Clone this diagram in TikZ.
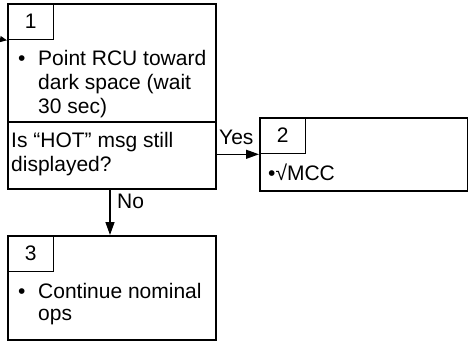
\documentclass[tikz,border=0pt]{standalone}
\usepackage{fontspec}
\setmainfont{Liberation Sans}
\usetikzlibrary{arrows.meta}
\begin{document}
\begin{tikzpicture}[x=1pt,y=1pt,
  box/.style={draw,line width=2pt,anchor=north west,inner sep=0pt},
  numbox/.style={draw,line width=1.3pt,anchor=north west,inner sep=0pt,minimum width=46pt,minimum height=36pt,font=\fontsize{21}{24}\selectfont},
  txt/.style={anchor=base west,inner sep=0pt,font=\fontsize{21}{24}\selectfont},
  arr/.style={line width=1.3pt,-{Triangle[length=13pt,width=9pt]}}]
\useasboundingbox (0,0) rectangle (468,341);
% box 1
\node[box,minimum width=208pt,minimum height=185pt] (b1) at (7,338) {};
\node[numbox] (n1) at (7,338) {1};
\draw[line width=1.3pt] (7,219) -- (215,219);
\node[txt] (b1bul) at (18,276) {•};
\node[txt] (b1l1) at (38,276) {Point RCU toward};
\node[txt] (b1l2) at (38,252) {dark space (wait};
\node[txt] (b1l3) at (38,228) {30 sec)};
\node[txt] (q1) at (11,194) {Is “HOT” msg still};
\node[txt] (q2) at (11,170) {displayed?};
% box 2
\node[box,minimum width=208pt,minimum height=73pt] (b2) at (259,224) {};
\node[numbox] (n2) at (259,224) {2};
\node[txt] (b2l1) at (268,161) {•√MCC};
% box 3
\node[box,minimum width=208pt,minimum height=104pt] (b3) at (7,106) {};
\node[numbox] (n3) at (7,106) {3};
\node[txt] (b3bul) at (18,43) {•};
\node[txt] (b3l1) at (38,43) {Continue nominal};
\node[txt] (b3l2) at (38,21) {ops};
% connectors
\coordinate (inc) at (-6,303);
\draw[line width=1.3pt,-{Triangle[length=7pt,width=6pt]}] (inc) -- (b1.west |- n1.south);
\draw[arr] (b1.east |- n2.south) -- (b2.west |- n2.south);
\node[txt] (yes) at (219,197) {Yes};
\draw[arr] (b1.south -| 110,0) -- (b3.north -| 110,0);
\node[txt] (no) at (117,133) {No};
\end{tikzpicture}
\end{document}
